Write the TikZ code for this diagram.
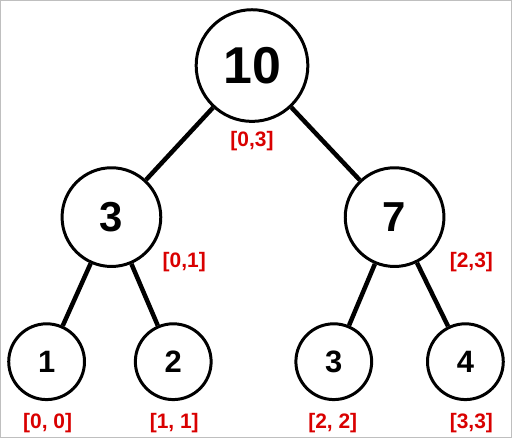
\documentclass[tikz,border=0pt]{standalone}
\usepackage{fontspec}
\setmainfont{Liberation Sans}
\usetikzlibrary{positioning}

\begin{document}
\begin{tikzpicture}[
  x=1pt, y=-1pt,
  every node/.style={font=\bfseries},
  seg/.style={draw, circle, line width=3pt, inner sep=0pt},
  spanlbl/.style={text=red!85!black, font=\fontsize{21}{21}\selectfont\bfseries},
  link/.style={line width=4.5pt},
]
\draw[gray!50, line width=1.5pt] (0,0) rectangle (512,438);
\node[seg, minimum size=112pt, font=\fontsize{52}{52}\selectfont\bfseries]
  (r) at (252, 65) {10};
\node[seg, minimum size=99pt, font=\fontsize{42}{42}\selectfont\bfseries]
  (a) at (111, 217) {3};
\node[seg, minimum size=99pt, font=\fontsize{42}{42}\selectfont\bfseries]
  (b) at (395, 217) {7};
\node[seg, minimum size=76pt, font=\fontsize{31}{31}\selectfont\bfseries]
  (l1) at (46, 362) {1};
\node[seg, minimum size=76pt, font=\fontsize{31}{31}\selectfont\bfseries]
  (l2) at (173, 362) {2};
\node[seg, minimum size=76pt, font=\fontsize{31}{31}\selectfont\bfseries]
  (l3) at (334, 362) {3};
\node[seg, minimum size=76pt, font=\fontsize{31}{31}\selectfont\bfseries]
  (l4) at (466, 362) {4};
\draw[link] (r) -- (a);
\draw[link] (r) -- (b);
\draw[link] (a) -- (l1);
\draw[link] (a) -- (l2);
\draw[link] (b) -- (l3);
\draw[link] (b) -- (l4);
% index ranges
\node[spanlbl] (rr) at (252, 141) {[0,3]};
\node[spanlbl] (ra) at (184, 262) {[0,1]};
\node[spanlbl] (rb) at (472, 262) {[2,3]};
\node[spanlbl] (r1) at (47, 424) {[0, 0]};
\node[spanlbl] (r2) at (174, 424) {[1, 1]};
\node[spanlbl] (r3) at (333, 424) {[2, 2]};
\node[spanlbl] (r4) at (472, 424) {[3,3]};
\end{tikzpicture}
\end{document}
